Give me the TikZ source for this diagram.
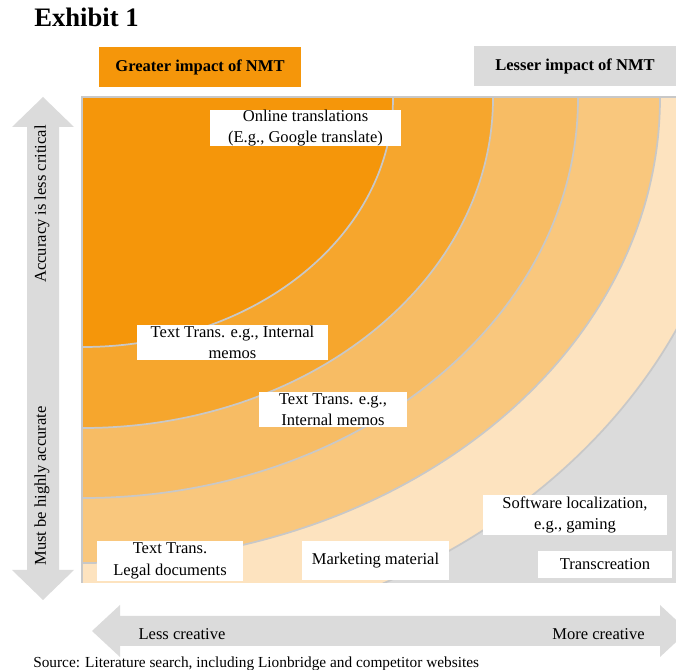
\documentclass[tikz,border=0pt]{standalone}
\usepackage{fontspec}
\setmainfont{Liberation Serif}
\usepackage{tikz}

\definecolor{ringA}{RGB}{245,150,10}
\definecolor{ringB}{RGB}{246,166,45}
\definecolor{ringC}{RGB}{247,188,100}
\definecolor{ringD}{RGB}{249,199,125}
\definecolor{ringE}{RGB}{253,227,191}
\definecolor{bggray}{RGB}{219,219,219}
\definecolor{ringline}{RGB}{200,200,200}
\definecolor{headorange}{RGB}{245,150,10}

\tikzset{
	tagbox/.style={fill=white, inner sep=0pt, align=center, font=\fontsize{12.4}{16}\selectfont},
	headbox/.style={inner sep=0pt, minimum width=151.5pt, minimum height=30pt, font=\bfseries\fontsize{12.4}{15}\selectfont},
	axistext/.style={inner sep=0pt, font=\fontsize{12.4}{15}\selectfont}
}

\begin{document}
\begin{tikzpicture}[x=0.75pt, y=-0.75pt]
	\useasboundingbox (0,0) rectangle (676,670);
	\clip (0,0) rectangle (676,670);

	\node[anchor=base west, inner sep=0pt, font=\bfseries\fontsize{20}{24}\selectfont] (title) at (34,27) {Exhibit 1};

	\node[headbox, fill=headorange] (greater) at (200,67) {Greater impact of NMT};
	\node[headbox, fill=bggray] (lesser) at (575,66.5) {Lesser impact of NMT};

	\fill[bggray] (83,98) rectangle (676,583);
	\begin{scope}
		\clip (83,98) rectangle (676,583);
		\foreach \a/\b/\c in {655/546/ringE, 577/465/ringD, 495/400/ringC, 410/330/ringB, 310/249/ringA} {
			\filldraw[fill=\c, draw=ringline, line width=1.3pt] (83,98) ellipse [x radius=\a, y radius=\b];
		}
	\end{scope}
	\draw[ringline, line width=2.2pt] (82,583) -- (82,97) -- (676,97);

	\fill[bggray] (43,97) -- (74,127) -- (59,127) -- (59,570) -- (74,570) -- (43,600) -- (12,570) -- (27,570) -- (27,127) -- (12,127) -- cycle;
	\fill[bggray] (92,631) -- (120,605) -- (120,616) -- (660,616) -- (660,605) -- (688,631) -- (660,657) -- (660,646) -- (120,646) -- (120,657) -- cycle;

	\node[axistext, rotate=90] (lesscritical) at (42,204) {Accuracy is less critical};
	\node[axistext, rotate=90] (accurate) at (42,486) {Must be highly accurate};
	\node[axistext] (lesscreative) at (182,634) {Less creative};
	\node[axistext] (morecreative) at (598.5,634) {More creative};

	\node[tagbox, minimum width=143.25pt, minimum height=27pt] (online) at (305.5,128) {Online translations\\(E.g., Google translate)};
	\node[tagbox, minimum width=143.25pt, minimum height=26.25pt] (memosA) at (232.5,342.5) {Text Trans. e.g., Internal\\memos};
	\node[tagbox, minimum width=111pt, minimum height=26.25pt] (memosB) at (333,409.5) {Text Trans. e.g.,\\Internal memos};
	\node[tagbox, minimum width=109.5pt, minimum height=30pt] (legal) at (170,561) {Text Trans.\\Legal documents};
	\node[tagbox, minimum width=110.25pt, minimum height=29.25pt] (marketing) at (375.5,560.5) {Marketing material};
	\node[tagbox, minimum width=138pt, minimum height=30pt] (software) at (575,515) {Software localization,\\e.g., gaming};
	\node[tagbox, minimum width=100.5pt, minimum height=20.25pt] (transcreation) at (605,564.5) {Transcreation};

	\node[anchor=base west, inner sep=0pt, font=\fontsize{11.5}{14}\selectfont] (source) at (33,668) {Source: Literature search, including Lionbridge and competitor websites};
\end{tikzpicture}
\end{document}
